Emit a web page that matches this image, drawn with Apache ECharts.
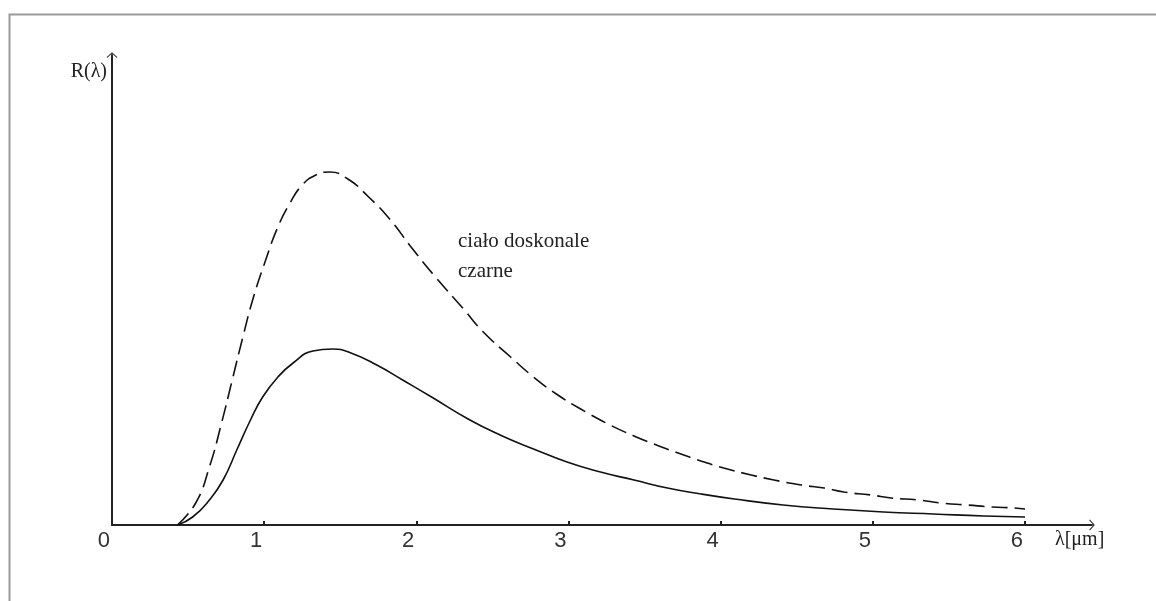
<!DOCTYPE html>
<html>
<head>
<meta charset="utf-8">
<script src="https://cdn.jsdelivr.net/npm/echarts@6/dist/echarts.min.js"></script>
<style>
  html, body { margin: 0; padding: 0; background: #fff; }
  #chart { width: 1156px; height: 601px; }
</style>
</head>
<body>
<div id="chart"></div>
<script>
// lambda [um] and R values (arbitrary units)
const lambdaBlack = [0.43, 0.55, 0.64, 0.72, 0.79, 0.86, 0.93, 1.01, 1.09, 1.17, 1.25, 1.34, 1.43, 1.55, 1.68, 1.83, 1.96, 2.12, 2.31, 2.44, 2.62, 2.77, 2.93, 3.08, 3.26, 3.43, 3.56, 3.72, 3.87, 4.02, 4.20, 4.35, 4.53, 4.68, 4.81, 4.99, 5.12, 5.30, 5.45, 5.62, 5.78, 5.93, 6.0]
const rBlack      = [0, 0.22, 0.58, 1.02, 1.45, 1.88, 2.28, 2.65, 2.98, 3.22, 3.40, 3.50, 3.53, 3.46, 3.29, 3.05, 2.79, 2.49, 2.16, 1.93, 1.68, 1.48, 1.30, 1.16, 1.01, 0.89, 0.81, 0.72, 0.64, 0.57, 0.50, 0.45, 0.40, 0.37, 0.33, 0.30, 0.27, 0.25, 0.22, 0.20, 0.18, 0.17, 0.16]

const lambdaReal = [0.43, 0.53, 0.64, 0.73, 0.82, 0.91, 0.99, 1.09, 1.19, 1.32, 1.45, 1.57, 1.74, 1.91, 2.10, 2.34, 2.55, 2.77, 2.99, 3.21, 3.43, 3.65, 3.87, 4.09, 4.41, 4.74, 5.07, 5.40, 5.73, 6.0]
const rReal      = [0, 0.08, 0.25, 0.45, 0.75, 1.05, 1.28, 1.48, 1.62, 1.74, 1.76, 1.72, 1.60, 1.45, 1.28, 1.06, 0.90, 0.76, 0.63, 0.53, 0.45, 0.37, 0.31, 0.26, 0.20, 0.16, 0.13, 0.11, 0.09, 0.08]

const xTicks = [0, 1, 2, 3, 4, 5, 6]
const noteLines = ['ciało doskonale', 'czarne']

function pairs(xs, ys) {
  return xs.map(function (x, i) { return [x, ys[i]] })
}

// open V arrow head, pointing up
const arrowPath = 'path://M0,0 L10,9 L8.6,10.2 L0,2.4 L-8.6,10.2 L-10,9 Z'

const chart = echarts.init(document.getElementById('chart'))

const option = {
  animation: false,
  grid: { left: 112, right: 64, top: 55, bottom: 76 },
  xAxis: {
    type: 'value',
    min: 0,
    max: 6.44,
    name: 'λ[μm]',
    nameLocation: 'end',
    nameGap: -37,
    nameTextStyle: {
      fontFamily: 'Liberation Serif',
      fontSize: 20,
      color: '#222',
      align: 'left',
      verticalAlign: 'top',
      padding: [5, 0, 0, 0]
    },
    axisLine: {
      onZero: false,
      symbol: ['none', arrowPath],
      symbolSize: [11, 10],
      lineStyle: { color: '#222', width: 2 }
    },
    axisTick: {
      show: true,
      customValues: xTicks.slice(1),
      length: 4,
      inside: true,
      lineStyle: { color: '#222', width: 2 }
    },
    axisLabel: {
      customValues: xTicks,
      color: '#333',
      fontFamily: 'Liberation Sans',
      fontSize: 22,
      align: 'right',
      margin: 5,
      padding: [0, 2, 0, 0]
    },
    splitLine: { show: false }
  },
  yAxis: {
    type: 'value',
    min: 0,
    max: 4.70,
    name: 'R(λ)',
    nameLocation: 'end',
    nameGap: -17,
    nameTextStyle: {
      fontFamily: 'Liberation Serif',
      fontSize: 20,
      color: '#222',
      align: 'right',
      verticalAlign: 'middle',
      padding: [0, 5, 0, 0]
    },
    axisLine: {
      show: true,
      symbol: ['none', arrowPath],
      symbolSize: [11, 10],
      lineStyle: { color: '#222', width: 2 }
    },
    axisTick: { show: false },
    axisLabel: { show: false },
    splitLine: { show: false }
  },
  graphic: [
    {
      type: 'rect',
      left: 7,
      top: 12,
      shape: { width: 1200, height: 700 },
      style: { fill: 'none', stroke: '#999', lineWidth: 2 },
      silent: true
    },
    {
      type: 'text',
      left: 458,
      top: 226,
      style: {
        text: noteLines.join('\n'),
        font: '21px "Liberation Serif"',
        lineHeight: 30,
        fill: '#222'
      }
    }
  ],
  series: [
    {
      name: 'ciało doskonale czarne',
      type: 'line',
      data: pairs(lambdaBlack, rBlack),
      smooth: 0.5,
      showSymbol: false,
      lineStyle: { color: '#111', width: 1.6, type: [16, 7] }
    },
    {
      name: 'ciało rzeczywiste',
      type: 'line',
      data: pairs(lambdaReal, rReal),
      smooth: 0.5,
      showSymbol: false,
      lineStyle: { color: '#111', width: 1.6 }
    }
  ]
}

chart.setOption(option)
</script>
</body>
</html>
